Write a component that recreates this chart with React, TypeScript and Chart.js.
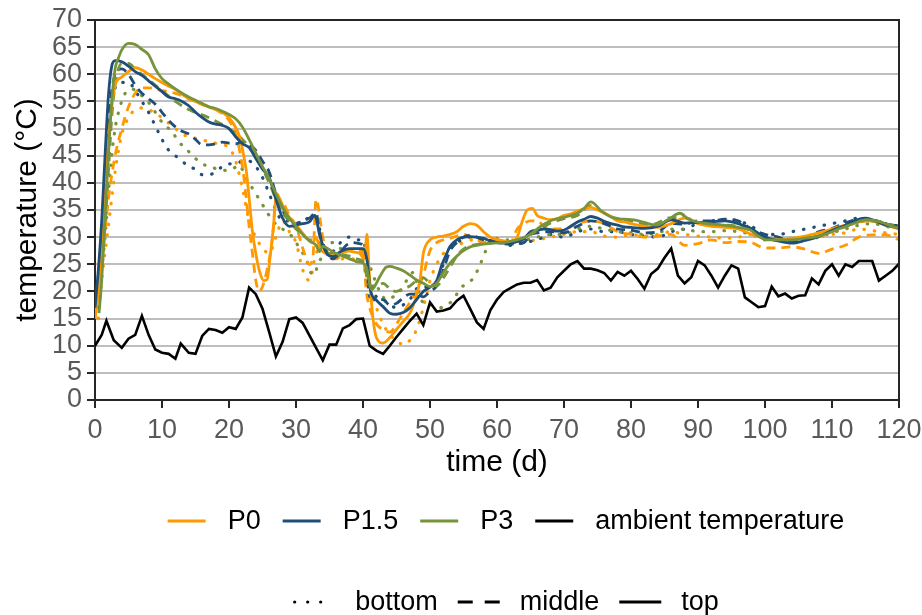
import React, { useEffect, useRef } from "react";
import { Chart, registerables } from "chart.js";

Chart.register(...registerables);

type Pt = [number, number];

// ---------- data (day, °C) ----------
const ambient: Pt[] = [
  [0, 10], [1, 12], [1.7, 14.6], [2.8, 11], [4, 9.6], [5, 11.3], [6, 12], [7, 15.5], [8, 12], [9, 9.3],
  [10, 8.7], [11, 8.5], [12, 7.6], [12.8, 10.4], [14, 8.7], [15, 8.5], [16, 11.8], [17, 13.1], [18, 12.9], [19, 12.4],
  [20, 13.4], [21, 13.1], [22, 15.2], [23, 20.7], [24, 19.5], [25, 16.8], [26, 12.5], [27, 8], [28, 10.7], [29, 14.9],
  [30, 15.2], [31, 14.2], [32, 11.9], [33, 9.6], [34, 7.3], [35, 10.2], [36, 10.2], [37, 13.2], [38, 13.8], [39, 14.9],
  [40, 15], [41, 10], [42, 9.1], [43, 8.5], [44, 10], [45, 11.6], [46, 13.1], [47, 14.6], [48, 15.9], [49, 13.8],
  [50, 18], [51, 16.3], [52, 16.5], [53, 16.9], [54, 18.3], [55, 19.2], [56, 16.8], [57, 14.3], [58, 13.1], [59, 16.5],
  [60, 18.5], [61, 19.9], [62, 20.6], [63, 21.3], [64, 21.6], [65, 21.6], [66, 22.1], [67, 20.2], [68, 20.7], [69, 22.6],
  [70, 23.8], [71, 25], [72, 25.6], [73, 24.2], [74, 24.2], [75, 23.9], [76, 23.4], [77, 22], [78, 23.6], [79, 22.9],
  [80, 23.8], [81, 22.3], [82, 20.5], [83, 23.2], [84, 24.2], [85, 26.2], [86, 27.9], [87, 22.9], [88, 21.5], [89, 22.6],
  [90, 25.6], [91, 24.8], [92, 22.9], [93, 20.7], [94, 22.9], [95, 24.8], [96, 24.2], [97, 18.9], [98, 18], [99, 17.1],
  [100, 17.3], [101, 20.9], [102, 19.1], [103, 19.6], [104, 18.7], [105, 19.2], [106, 19.3], [107, 22.4], [108, 21.3], [109, 23.8],
  [110, 25], [111, 22.9], [112, 25], [113, 24.5], [114, 25.6], [115, 25.6], [116, 25.6], [117, 22], [118, 22.9], [119, 23.8],
  [120, 25.1],
];

const p0Top: Pt[] = [
  [0, 15], [0.5, 20], [1, 30], [1.5, 40], [2, 48], [2.5, 54], [3, 58], [4, 59.5], [5, 60.5], [6, 61.2], [7, 60.8],
  [8, 60], [9, 59.2], [10, 58.5], [11, 57.8], [12, 57.2], [13, 56.3], [14, 55.5], [15, 55], [16, 54.4], [17, 54],
  [18, 53.5], [19, 53], [20, 52], [21, 50.2], [21.6, 48.4], [22.2, 45], [22.6, 42], [23.1, 36], [23.5, 31], [24, 27],
  [24.6, 23.5], [25.2, 22], [25.7, 22.2], [26.1, 26], [26.6, 31.5], [27.1, 38], [27.6, 37], [28.5, 34.5], [29.5, 33],
  [30.5, 31.5], [31.5, 30], [32.5, 29], [33, 30], [33.5, 28], [34.5, 27], [35.5, 26.5], [36.5, 27], [37.5, 27.5],
  [38.5, 27.3], [39.5, 27], [40.2, 26], [40.6, 30.5], [40.9, 24], [41.5, 15], [42, 11.5], [43, 10.5], [44, 11.5],
  [45, 13], [46, 14.5], [47, 16], [47.8, 18.5], [48.5, 22], [49, 27], [50, 29.5], [51, 30], [52, 30.2], [53, 30.5],
  [54, 31], [55, 32], [56, 32.5], [57, 32.2], [58, 31], [59, 30], [60, 29.6], [61, 29.3], [62, 29.2], [63, 30],
  [63.8, 33], [64.5, 35], [65.3, 35.3], [66, 34], [67, 33.5], [68, 33.2], [69, 33.4], [70, 34], [71, 34.3], [72, 34.8],
  [73, 35.2], [74, 35.5], [75, 35], [76, 34.5], [77, 33.8], [78, 33], [79, 32.8], [80, 32.5], [82, 32], [84, 31.8],
  [86, 32.5], [88, 33.5], [90, 32.5], [92, 32], [94, 31.8], [96, 31.5], [98, 30.5], [100, 29.8], [102, 29.5],
  [104, 29.8], [106, 30.2], [108, 30.8], [110, 31.5], [112, 32.2], [114, 32.8], [116, 33], [118, 32.2], [120, 31.5],
];

const p15Top: Pt[] = [
  [0, 17], [0.5, 24], [1, 33], [1.5, 45], [2, 56], [2.5, 61.5], [3, 62.5], [4, 62.3], [5, 61.5], [6, 60.5], [7, 59.8],
  [8, 58.8], [9, 57.8], [10, 56.8], [11, 55.8], [12, 55.5], [13, 55], [14, 54.2], [15, 53], [16, 52], [17, 51.2],
  [18, 50.8], [19, 50.6], [20, 50], [21, 48.5], [22, 47.2], [23, 46.5], [24, 44.5], [25, 42.5], [26, 41], [27, 37],
  [28, 33.5], [29, 32], [30, 32.2], [31, 32.5], [32, 32.8], [32.8, 34], [33.6, 30], [34.6, 27], [35.6, 26.4],
  [36.6, 27.3], [38, 27.9], [40, 27.9], [40.6, 25.8], [41.1, 20.3], [42, 18.4], [43, 17.2], [44, 16], [45, 15.8],
  [46, 16.1], [47, 17], [48, 18.5], [49, 20], [50, 20.8], [51, 22], [51.8, 25], [52.5, 27], [53, 28.3], [54, 29.5],
  [55, 30], [56, 30.1], [57, 30], [58, 29.8], [59, 29.3], [60, 29], [61, 28.9], [62, 28.9], [63, 29.2], [64, 29.7],
  [65, 31], [66, 31.3], [67, 31.5], [68, 31.4], [69, 31.1], [70, 31.3], [71, 32], [72, 32.8], [73, 33.3], [74, 33.8],
  [75, 33.5], [76, 32.9], [77, 32.5], [78, 32.2], [79, 31.9], [80, 31.8], [82, 31.6], [84, 32], [86, 33.2], [88, 32.6],
  [90, 32.7], [92, 32.8], [94, 33], [96, 32.5], [98, 31.5], [100, 30], [102, 29.3], [104, 28.9], [106, 29.4],
  [108, 30.1], [110, 31.2], [112, 32.2], [114, 33.3], [115, 33.5], [116, 33.2], [118, 32.2], [120, 31.8],
];

const p3Top: Pt[] = [
  [0.6, 16], [1, 22], [1.5, 33.7], [2, 45], [2.5, 55], [3, 61], [3.5, 63], [4, 64.5], [5, 65.7], [6, 65.5], [7, 64.6],
  [8, 63.6], [9, 61], [10, 59.2], [11, 58.2], [12, 57.3], [13, 56.5], [14, 55.8], [15, 55.2], [16, 54.6], [17, 54],
  [18, 53.7], [19, 53.2], [20, 52.6], [21, 51.8], [22, 50.3], [23, 48], [24, 45.5], [25, 43], [26, 40.8], [27, 38],
  [28, 35.5], [29, 33.5], [30, 32], [31, 30.5], [32, 29.3], [33, 28.5], [33.5, 27.3], [34, 28.3], [35, 27.7], [36, 27],
  [37, 26.5], [38, 26], [39, 25.5], [40, 25.2], [40.5, 24.5], [41.3, 20.3], [42, 21.5], [42.5, 22.7], [43.5, 24.5],
  [44, 24.6], [45, 24.3], [46, 23.8], [47, 23], [48, 22.1], [49, 21.5], [50, 20.9], [51, 21.5], [52, 23.5], [53, 25.2],
  [54, 26.5], [55, 27.5], [56, 28.2], [57, 28.5], [58, 28.7], [59.5, 28.9], [61, 29], [62, 29.2], [63, 29.5],
  [64.4, 30.1], [65.5, 31], [66.4, 31.9], [67.5, 32.7], [68.4, 33.2], [69.4, 33.5], [70.5, 33.8], [72, 34.4], [73, 35.3],
  [74, 36.5], [74.5, 36.2], [75.4, 35], [76.4, 34.1], [77.5, 33.5], [79, 33.3], [80.4, 33.2], [82, 32.7], [83.8, 32.2],
  [85.5, 33.2], [87.3, 34.4], [88.5, 33.4], [89.8, 32.8], [92, 32.4], [93.8, 32.2], [96, 31.8], [97.8, 31.3], [99, 30.2],
  [100.2, 29.5], [102, 29.5], [103.7, 29.5], [106, 29.8], [107.7, 30.1], [110, 31], [111.2, 31.6], [113, 32.4],
  [115.2, 33.2], [117.2, 32.8], [119.2, 31.9], [120, 31.8],
];

const p0Middle: Pt[] = [
  [0, 15], [1, 25], [2, 37], [3, 45], [4, 50], [5, 54], [6, 56.5], [7, 57.5], [8, 57.5], [10, 57], [12, 56.5],
  [14, 55.5], [16, 54.5], [18, 53.5], [20, 51.5], [21, 49], [22, 43], [22.5, 38], [23, 32], [23.5, 27], [24, 22],
  [24.5, 20], [25.5, 23], [26.5, 30], [27, 37], [28, 36.5], [29, 34], [30, 32], [31, 28], [32, 25], [32.5, 26],
  [33, 37], [34, 30], [35, 26], [36, 26], [37, 27], [38, 27.5], [39, 27.5], [40, 27], [40.5, 20], [41, 17], [42, 14],
  [43, 13], [44, 12.5], [45, 14], [46, 16], [47, 18], [48, 20], [49, 23], [50, 27.5], [51, 29], [52, 29.5], [53, 29.8],
  [54, 30.2], [55, 30.5], [56, 30], [57, 29.5], [58, 29], [59, 29.5], [60, 29.5], [61, 29], [62, 29], [63, 31.5],
  [64, 32.5], [65, 33], [66, 33], [67, 32], [68, 31.5], [70, 31.5], [72, 32.5], [74, 33], [76, 32.5], [78, 31],
  [80, 30.5], [82, 30], [84, 30.2], [86, 30.5], [88, 28.5], [90, 28.8], [92, 29.5], [94, 29], [96, 29.2], [98, 29],
  [100, 28], [102, 28], [104, 28.2], [106, 27.8], [108, 27], [110, 27.8], [112, 28.5], [114, 30], [116, 30.4],
  [118, 30.4], [120, 29.5],
];

const p15Middle: Pt[] = [
  [0, 17], [1, 30], [1.5, 42], [2, 52], [2.5, 57], [3, 60], [4, 61], [5, 60], [6, 58], [7, 56.5], [8, 55.5],
  [9, 54.5], [10, 53], [11, 51.5], [12, 50.3], [13, 49.5], [14, 49], [15, 48], [16, 47], [17, 47], [18, 47.2],
  [19, 47.5], [20, 47.3], [21, 47.2], [22, 47.5], [23, 47], [24, 46], [25, 44], [26, 42], [27, 38], [28, 35],
  [29, 33], [30, 32.5], [31, 33], [32, 33.5], [33, 34.5], [33.5, 31], [34.5, 27.5], [35.5, 26], [36.5, 27],
  [37.5, 28.5], [38.5, 29], [39.5, 28.8], [40.3, 28], [41, 19], [42, 18.5], [43, 18.5], [44, 17.5], [45, 17.8],
  [46, 18.8], [47, 19.5], [48, 19.5], [49, 19], [50, 20], [51, 21], [52, 24], [53, 27.5], [54, 29], [55, 30],
  [56, 30.3], [57, 30], [58, 29.5], [59, 29.3], [60, 29], [62, 28.7], [64, 29], [65, 30.5], [66, 30.8], [68, 31],
  [70, 30.8], [72, 32], [74, 33], [76, 32.5], [78, 31.5], [80, 31.3], [82, 30.8], [84, 31], [86, 32.5], [88, 32.4],
  [90, 33], [92, 33], [94, 33.3], [96, 33], [98, 31.5], [100, 30.5], [102, 30], [104, 29.2], [106, 30], [108, 31],
  [110, 31.6], [112, 32.6], [114, 33.3], [116, 33.2], [118, 32.5], [120, 32],
];

const p3Middle: Pt[] = [
  [0.8, 22], [1.5, 32], [2, 42], [2.5, 52], [3, 58], [4, 62], [5, 62], [6, 61], [7, 60], [8, 59], [10, 57],
  [12, 55], [14, 53.5], [17, 52], [20, 50], [22, 48], [24, 45], [26, 40], [27, 37], [28, 34.5], [29, 33], [30, 31.5],
  [31, 30.5], [32, 29.5], [33, 29.5], [34, 28], [35, 27], [36, 27], [37, 26.8], [38, 26.5], [39, 26], [40, 25.5],
  [41, 21], [42, 21], [43, 21.5], [44, 20.5], [45, 20], [46, 20.5], [47, 21], [48, 22], [49, 22.5], [50, 21.5],
  [51, 21], [52, 22.5], [53, 24.5], [54, 26.5], [55, 27.8], [56, 28.4], [58, 28.8], [60, 29], [62, 29], [64, 29.8],
  [66, 31.2], [68, 32.6], [70, 33.4], [72, 34], [74, 35.8], [75, 35.2], [77, 33.8], [80, 33], [83, 32.3], [86, 33.6],
  [88, 33.6], [90, 32.7], [93, 32.3], [96, 32], [98, 31.2], [100, 29.8], [103, 29.6], [106, 29.9], [108, 30.3],
  [111, 31.5], [115, 33], [117, 32.7], [120, 31.9],
];

const p0Bottom: Pt[] = [
  [0.5, 15], [1, 22], [2, 32], [3, 42], [4, 49], [5, 52], [6, 53.5], [7, 53.8], [8, 53.5], [9, 52.8], [10, 52],
  [11, 51], [12, 50], [13, 49], [14, 48.5], [15, 48.2], [16, 48], [17, 47.5], [18, 47.3], [19, 47], [20, 46.5],
  [21, 44], [22, 39], [23, 33], [24, 30], [25, 28], [26, 27], [27, 30], [28, 33], [29, 31], [30, 29], [31, 24],
  [32, 22], [33, 27], [34, 28], [35, 27], [36, 26], [38, 26], [40, 26], [41, 21], [42, 17], [43, 14], [44, 12],
  [45, 11], [46, 10.2], [47, 11], [48, 13], [49, 17], [50, 22], [51, 25], [52, 27], [53, 28], [54, 28.5], [55, 29],
  [56, 29.5], [57, 29], [58, 29], [60, 29.5], [62, 29], [64, 29.2], [66, 29.5], [68, 30], [70, 30.5], [72, 31],
  [74, 31], [76, 30.2], [78, 30], [80, 30.5], [82, 30.2], [84, 30.5], [86, 31], [88, 30.5], [90, 30.2], [92, 30],
  [94, 29.8], [96, 30], [98, 30.5], [100, 30], [102, 29.5], [104, 29.8], [106, 29.8], [108, 30], [110, 30.5],
  [112, 30.8], [114, 31.5], [116, 31.2], [118, 30.8], [120, 30.5],
];

const p15Bottom: Pt[] = [
  [0.5, 17], [1, 28], [1.5, 38], [2, 48], [2.5, 55], [3, 57.5], [4, 58.5], [5, 58.5], [6, 57], [7, 55], [8, 53],
  [9, 50.5], [10, 48], [11, 46], [12, 45], [13, 44], [14, 43], [15, 42.5], [16, 41.5], [17, 41.5], [18, 42],
  [19, 43], [20, 43.5], [21, 43.5], [22, 44], [23, 44], [24, 43], [25, 41], [26, 38], [27, 35], [28, 33], [29, 33],
  [30, 32.5], [31, 33], [32, 33.5], [33, 33.5], [34, 29], [35, 27], [36, 28], [37, 29.5], [38, 30], [39, 29.5],
  [40, 29.5], [41, 22], [42, 19], [43, 18.5], [44, 17.5], [45, 17], [46, 17.5], [47, 18.5], [48, 20.5], [49, 21],
  [50, 20.5], [51, 21.5], [52, 25], [53, 28], [54, 29], [56, 30], [58, 29.5], [60, 29.3], [62, 28.5], [64, 29],
  [66, 29.5], [68, 30.5], [70, 30], [72, 31], [74, 31.5], [76, 31], [78, 31], [80, 30.5], [82, 30.2], [84, 30],
  [86, 31], [88, 31.5], [90, 32.5], [92, 33], [94, 33.2], [96, 33], [98, 32], [100, 30.5], [102, 30.5], [104, 31],
  [106, 31.5], [108, 32], [110, 32.5], [112, 33], [114, 33.5], [116, 33.2], [118, 32.5], [120, 32],
];

const p3Bottom: Pt[] = [
  [0.8, 22], [1.5, 30], [2, 38], [2.5, 45], [3, 50], [3.5, 53], [4.5, 56.5], [5.5, 57.3], [6.5, 56.5], [7.5, 55.5],
  [8.5, 54], [9.5, 52], [10.5, 50.5], [11.5, 49.5], [12.5, 47.5], [13.5, 46.5], [14.5, 45], [15.5, 44], [16.5, 43.2],
  [17.5, 42.8], [18.5, 42.5], [19.5, 42.3], [20.5, 42.5], [21.5, 43.3], [22.5, 41], [23.5, 39], [24.5, 37],
  [25.5, 35], [26.5, 33], [27.5, 32], [28.5, 31], [29.5, 30], [30.5, 28], [31.5, 26], [32.5, 23], [33.5, 25.5],
  [34.5, 28], [35.5, 29], [36.5, 28], [38, 27.5], [39.5, 27.5], [40.5, 26.5], [41.5, 23], [42.5, 20], [43.5, 18.5],
  [44.5, 19], [45.5, 20], [46.5, 22], [47.5, 23.5], [48.5, 19], [49.5, 17.5], [50.5, 17.5], [51.5, 17], [52.5, 17.5],
  [53.5, 18.5], [54.5, 20.5], [55.5, 21.5], [56.5, 22.5], [57.5, 25], [58.5, 28], [59.5, 30], [60.5, 29.5],
  [62, 29.5], [64, 29.5], [66, 30], [68, 30.5], [70, 30.5], [72, 31.5], [74, 32], [76, 31.5], [78, 31], [80, 30.8],
  [82, 30.5], [84, 30.8], [86, 31.5], [88, 31.5], [90, 31], [92, 31], [94, 31.2], [96, 31], [98, 30.5], [100, 29.5],
  [102, 29.5], [104, 29.2], [106, 29.5], [108, 30], [110, 30.8], [112, 31.5], [114, 32.2], [116, 32.5], [118, 32],
  [120, 31.5],
];

const xTicks = [0, 10, 20, 30, 40, 50, 60, 70, 80, 90, 100, 110, 120];
const yTicks = [0, 5, 10, 15, 20, 25, 30, 35, 40, 45, 50, 55, 60, 65, 70];

const seriesLegend = ["P0", "P1.5", "P3", "ambient temperature"];
const positionLegend = ["bottom", "middle", "top"];

// ---------- styling ----------
const ORANGE = "#FF9900";
const BLUE = "#1F4E79";
const GREEN = "#77933C";
const BLACK = "#000000";
const FONT = '"Liberation Sans", Arial, sans-serif';
const TICK_FS = 27;
const TITLE_FS = 30;
const LEG_FS = 27;

const DOT = [0.5, 10];
const DASH = [9, 6];

const toXY = (d: Pt[]) => d.map(([x, y]) => ({ x, y }));

function ds(label: string, data: Pt[], color: string, style: "top" | "middle" | "bottom" | "amb") {
  const base: any = {
    label,
    data: toXY(data),
    borderColor: color,
    backgroundColor: color,
    pointRadius: 0,
    fill: false,
    spanGaps: true,
  };
  if (style === "amb") {
    return { ...base, borderWidth: 2.6, tension: 0 };
  }
  base.cubicInterpolationMode = "monotone";
  if (style === "top") return { ...base, borderWidth: 2.8 };
  if (style === "middle") return { ...base, borderWidth: 2.8, borderDash: DASH };
  return { ...base, borderWidth: 3.2, borderDash: DOT, borderCapStyle: "round" };
}

const frameAndLegend = {
  id: "frameAndLegend",
  afterDraw(chart: any) {
    const { ctx, chartArea } = chart;
    ctx.save();
    // top & right frame
    ctx.strokeStyle = "#262626";
    ctx.lineWidth = 2;
    ctx.beginPath();
    ctx.moveTo(chartArea.left, chartArea.top);
    ctx.lineTo(chartArea.right, chartArea.top);
    ctx.lineTo(chartArea.right, chartArea.bottom);
    ctx.stroke();

    ctx.font = `${LEG_FS}px ${FONT}`;
    ctx.textBaseline = "middle";
    ctx.textAlign = "left";
    const center = 506;

    // row 1: series colours
    const cols = [ORANGE, BLUE, GREEN, BLACK];
    const s1 = 38, g1 = 22, g2 = 22;
    const w1 = seriesLegend.map((t) => ctx.measureText(t).width);
    const total1 = w1.reduce((a, b) => a + b, 0) + seriesLegend.length * (s1 + g1) + (seriesLegend.length - 1) * g2;
    let x = center - total1 / 2;
    const y1 = 521;
    seriesLegend.forEach((t, i) => {
      ctx.strokeStyle = cols[i];
      ctx.lineWidth = 3;
      ctx.setLineDash([]);
      ctx.beginPath();
      ctx.moveTo(x, y1);
      ctx.lineTo(x + s1, y1);
      ctx.stroke();
      ctx.fillStyle = "#000";
      ctx.fillText(t, x + s1 + g1, y1 + 1);
      x += s1 + g1 + w1[i] + g2;
    });

    // row 2: line styles
    const s2 = 42, h1 = 20, h2 = 20;
    const w2 = positionLegend.map((t) => ctx.measureText(t).width);
    const total2 = w2.reduce((a, b) => a + b, 0) + positionLegend.length * (s2 + h1) + (positionLegend.length - 1) * h2;
    x = center - total2 / 2;
    const y2 = 602;
    positionLegend.forEach((t, i) => {
      ctx.strokeStyle = "#000";
      ctx.fillStyle = "#000";
      if (i === 0) {
        for (let k = 0; k < 3; k++) {
          ctx.beginPath();
          ctx.arc(x + k * 13 + 1.5, y2, 1.6, 0, Math.PI * 2);
          ctx.fill();
        }
      } else if (i === 1) {
        ctx.lineWidth = 3;
        ctx.beginPath();
        ctx.moveTo(x, y2);
        ctx.lineTo(x + 15, y2);
        ctx.moveTo(x + 27, y2);
        ctx.lineTo(x + 42, y2);
        ctx.stroke();
      } else {
        ctx.lineWidth = 3;
        ctx.beginPath();
        ctx.moveTo(x, y2);
        ctx.lineTo(x + s2, y2);
        ctx.stroke();
      }
      ctx.fillText(t, x + s2 + h1, y2 + 1);
      x += s2 + h1 + w2[i] + h2;
    });
    ctx.restore();
  },
};

export default function App() {
  const ref = useRef<HTMLCanvasElement>(null);
  useEffect(() => {
    document.body.style.margin = "0";
    const canvas = ref.current!;
    const chart = new Chart(canvas, {
      type: "line",
      data: {
        datasets: [
          ds("ambient temperature", ambient, BLACK, "amb"),
          ds("P3 top", p3Top, GREEN, "top"),
          ds("P1.5 top", p15Top, BLUE, "top"),
          ds("P0 top", p0Top, ORANGE, "top"),
          ds("P3 middle", p3Middle, GREEN, "middle"),
          ds("P1.5 middle", p15Middle, BLUE, "middle"),
          ds("P0 middle", p0Middle, ORANGE, "middle"),
          ds("P3 bottom", p3Bottom, GREEN, "bottom"),
          ds("P1.5 bottom", p15Bottom, BLUE, "bottom"),
          ds("P0 bottom", p0Bottom, ORANGE, "bottom"),
        ],
      },
      options: {
        responsive: false,
        animation: false,
        layout: { padding: { left: 0, right: 23, top: 20, bottom: 125 } },
        plugins: { legend: { display: false }, tooltip: { enabled: false } },
        scales: {
          x: {
            type: "linear",
            min: 0,
            max: 120,
            afterBuildTicks: (s: any) => {
              s.ticks = xTicks.map((v) => ({ value: v }));
            },
            afterFit: (s: any) => {
              s.height = 90;
              s.paddingLeft = 0;
              s.paddingRight = 0;
            },
            ticks: {
              color: "#595959",
              font: { family: FONT, size: TICK_FS },
              padding: 6,
              maxRotation: 0,
              autoSkip: false,
            },
            grid: {
              display: true,
              drawOnChartArea: false,
              drawTicks: true,
              tickLength: 8,
              tickColor: "#262626",
              lineWidth: 2,
            },
            border: { display: true, color: "#262626", width: 2 },
            title: {
              display: true,
              text: "time (d)",
              color: "#000",
              font: { family: FONT, size: TITLE_FS },
              padding: { top: 0, bottom: 9 },
            },
          },
          y: {
            type: "linear",
            min: 0,
            max: 70,
            afterBuildTicks: (s: any) => {
              s.ticks = yTicks.map((v) => ({ value: v }));
            },
            afterFit: (s: any) => {
              s.width = 95;
              s.paddingTop = 0;
              s.paddingBottom = 0;
            },
            ticks: {
              color: "#595959",
              font: { family: FONT, size: TICK_FS },
              padding: 5,
              autoSkip: false,
            },
            grid: {
              color: "#BEBEBE",
              lineWidth: 2,
              drawTicks: true,
              tickLength: 8,
              tickColor: "#262626",
            },
            border: { display: true, color: "#262626", width: 2 },
            title: {
              display: true,
              text: "temperature (°C)",
              color: "#000",
              font: { family: FONT, size: TITLE_FS },
              padding: { top: 10, bottom: 0 },
            },
          },
        },
      },
      plugins: [frameAndLegend],
    });
    return () => chart.destroy();
  }, []);
  return <canvas ref={ref} width={922} height={615} style={{ display: "block" }} />;
}
